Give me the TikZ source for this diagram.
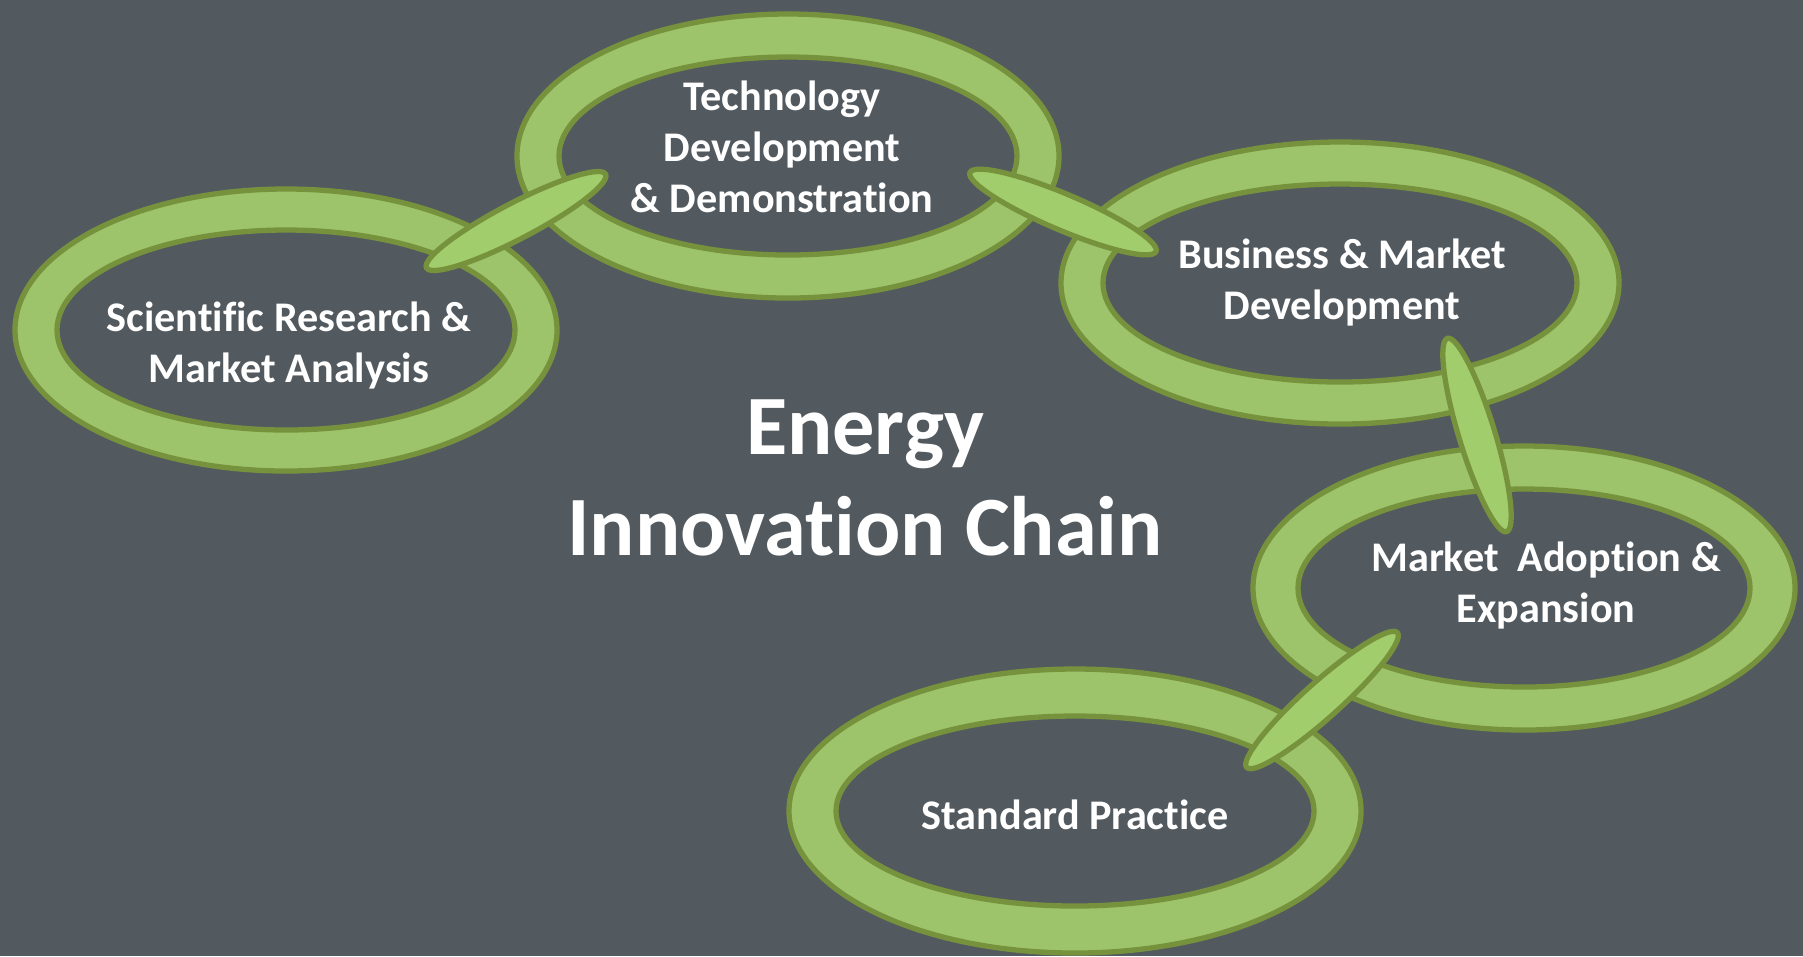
\documentclass[tikz,border=0pt]{standalone}
\usepackage{fontspec}
\setmainfont{Carlito}[Ligatures=NoCommon]
\usetikzlibrary{shapes.geometric}
\definecolor{slate}{HTML}{535A5F}
\definecolor{ringgreen}{HTML}{9DC46A}
\definecolor{linkgreen}{HTML}{A2CD6C}
\definecolor{rim}{HTML}{76923C}
\begin{document}
\begin{tikzpicture}[x=0.01cm, y=-0.01cm,
    ring/.style={fill=ringgreen, draw=rim, line width=1.5pt, even odd rule},
    link/.style={ellipse, fill=linkgreen, draw=rim, line width=1.5pt, inner sep=0pt,
        minimum width=2.02cm, minimum height=0.36cm},
    lbl/.style={text=white, align=center, font=\fontsize{12}{14.5}\selectfont\bfseries},
    headline/.style={text=white, align=center, font=\fontsize{24}{28.8}\selectfont\bfseries}]
    \fill[slate] (0,0) rectangle (1803,956);
    \useasboundingbox (0,0) rectangle (1803,956);

    % ring centres
    \coordinate (r1) at (286,330);
    \coordinate (r2) at (788,156);
    \coordinate (r3) at (1340,283);
    \coordinate (r4) at (1524,588);
    \coordinate (r5) at (1075,811);

    \path[ring] (r1) ellipse (271 and 141) (r1) ellipse (229 and 100);
    \path[ring] (r2) ellipse (271 and 142) (r2) ellipse (229 and 99);
    \path[ring] (r3) ellipse (279 and 141) (r3) ellipse (237 and 99);
    \path[ring] (r4) ellipse (271 and 142) (r4) ellipse (226 and 99);
    \path[ring] (r5) ellipse (286 and 142) (r5) ellipse (239 and 95);

    % links between the rings
    \node[link, rotate=27.6] (k1) at (516,221) {};
    \node[link, rotate=-23] (k2) at (1063,212) {};
    \node[link, rotate=107] (k3) at (1477,435) {};
    \node[link, rotate=41.8] (k4) at (1322,700) {};

    \node[lbl] (tech) at (782,147) {Technology\\Development\\\& Demonstration};
    \node[lbl] (sci) at (289,345) {Scientific Research \&\\Market Analysis};
    \node[lbl] (biz) at (1342,282) {Business \& Market\\Development};
    \node[lbl] (adopt) at (1546,585) {Market~ Adoption \&\\Expansion};
    \node[lbl] (std) at (1075,815) {Standard Practice};
    \node[headline] (chain) at (865,478) {Energy\\Innovation Chain};
\end{tikzpicture}
\end{document}
